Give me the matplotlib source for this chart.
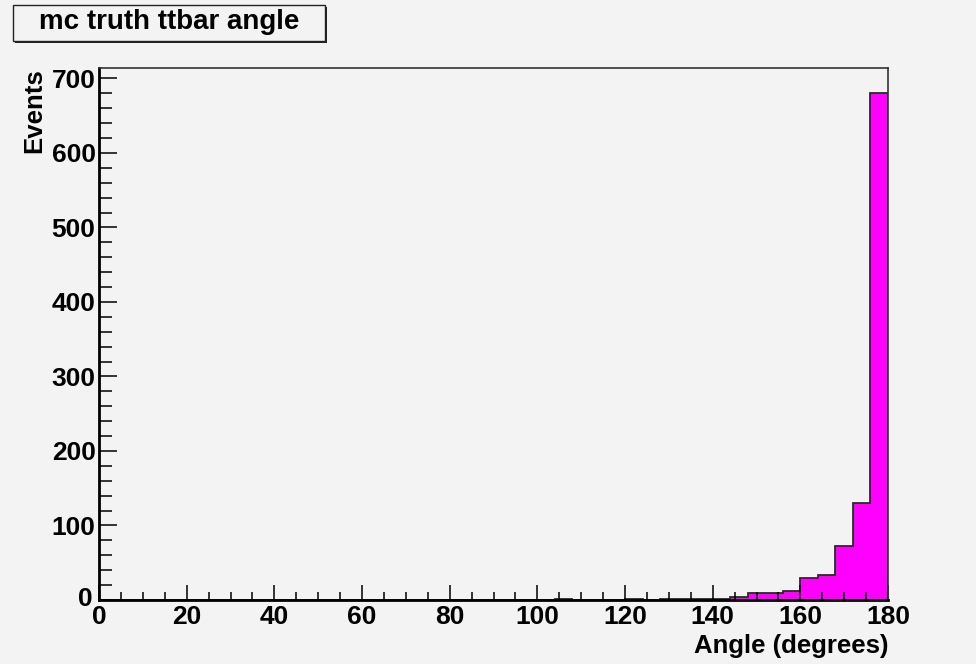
import numpy as np
import matplotlib
matplotlib.use("Agg")
import matplotlib.pyplot as plt
import matplotlib.transforms as mtransforms
from matplotlib.patches import Rectangle

# ---- data (45 bins of 4 degrees, 0..180) ----
bin_edges = list(range(0, 184, 4))
counts = [0] * 45
# non-zero bins: (left edge, events)
nonzero = {104: 2, 120: 1, 128: 2, 132: 1, 136: 2, 140: 2,
           144: 4, 148: 10, 152: 10, 156: 12, 160: 29, 164: 33,
           168: 72, 172: 130, 176: 680}
for left, v in nonzero.items():
    counts[left // 4] = v

title = "mc truth ttbar angle"
xlabel = "Angle (degrees)"
ylabel = "Events"

bg = "#f3f3f3"
plt.rcParams['font.family'] = ['Liberation Sans', 'DejaVu Sans']
plt.rcParams['font.weight'] = 'bold'

fig = plt.figure(figsize=(9.76, 6.64), dpi=100, facecolor=bg)
ax = fig.add_axes([99/976, 1-600/664, (888-99)/976, (600-68)/664])
ax.set_facecolor(bg)

ax.stairs(counts, bin_edges, fill=True, color="#ff00ff", zorder=1)
ax.stairs(counts, bin_edges, color="#2a2a2a", lw=1.3, zorder=1.5)

ax.set_xlim(0, 180)
ax.set_ylim(0, 714)

ax.set_xticks(np.arange(0, 181, 20))
ax.set_xticks(np.arange(0, 181, 5), minor=True)
ax.set_yticks(np.arange(0, 701, 100))
ax.set_yticks(np.arange(0, 714, 20), minor=True)

ax.tick_params(axis='both', which='both', direction='in', colors='black')
ax.tick_params(axis='x', which='major', length=11, width=1.1, labelsize=19, pad=3.5)
ax.tick_params(axis='x', which='minor', length=6, width=1.1)
ax.tick_params(axis='y', which='major', length=13, width=1.1, labelsize=19, pad=2.5)
ax.tick_params(axis='y', which='minor', length=9, width=1.1)
for lab in ax.get_xticklabels() + ax.get_yticklabels():
    lab.set_fontweight('bold')

# nudge the y-axis "0" up-left so it does not collide with the x-axis "0"
t0 = ax.yaxis.get_major_ticks()[0]
t0.label1.set_transform(t0.label1.get_transform() +
                        mtransforms.ScaledTranslation(-3/100, 4/100, fig.dpi_scale_trans))

for s in ['left', 'bottom']:
    ax.spines[s].set_linewidth(2.0)
    ax.spines[s].set_color('black')
for s in ['top', 'right']:
    ax.spines[s].set_linewidth(1.2)
    ax.spines[s].set_color('#333333')

ax.set_xlabel(xlabel, loc='right', fontsize=18.5, fontweight='bold', labelpad=4)
ax.set_ylabel(ylabel, loc='top', fontsize=18.5, fontweight='bold', labelpad=4)

# title box with shadow (ROOT style)
bx0, by0, bx1, by1 = 13/976, 1-41/664, 325/976, 1-5/664
fig.patches.append(Rectangle((bx0+2/976, by0-2/664), bx1-bx0, by1-by0,
                             transform=fig.transFigure, facecolor='#222222',
                             edgecolor='none', zorder=5))
fig.patches.append(Rectangle((bx0, by0), bx1-bx0, by1-by0,
                             transform=fig.transFigure, facecolor=bg,
                             edgecolor='#222222', lw=1.0, zorder=6))
fig.text((bx0+bx1)/2, (by0+by1)/2 + 1/664, title, ha='center', va='center',
         fontsize=20, fontweight='bold', zorder=7)

fig.savefig("out.png", dpi=100, facecolor=bg)
